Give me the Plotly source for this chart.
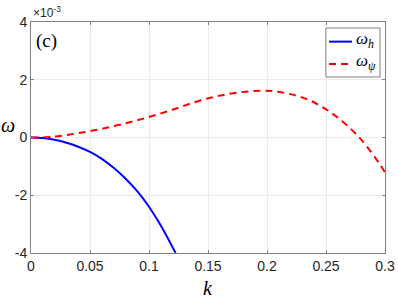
import plotly.graph_objects as go

# values in units of 1e-3
k_h = [0, 0.01, 0.02, 0.03, 0.04, 0.05, 0.06, 0.07, 0.08, 0.09, 0.10, 0.11, 0.1225]
omega_h = [0, -0.02, -0.08, -0.18, -0.32, -0.50, -0.74, -1.05, -1.42, -1.86, -2.40, -3.05, -4.0]

k_psi = [0, 0.02, 0.04, 0.05, 0.06, 0.08, 0.10, 0.12, 0.14, 0.16, 0.18, 0.195,
         0.205, 0.215, 0.225, 0.235, 0.245, 0.255, 0.265, 0.275, 0.285, 0.295, 0.3]
omega_psi = [0, 0.03, 0.15, 0.22, 0.30, 0.49, 0.71, 0.96, 1.24, 1.45, 1.58, 1.62,
             1.61, 1.54, 1.45, 1.31, 1.10, 0.84, 0.52, 0.14, -0.33, -0.89, -1.21]

x_ticks = [0, 0.05, 0.1, 0.15, 0.2, 0.25, 0.3]
x_ticktext = ["0", "0.05", "0.1", "0.15", "0.2", "0.25", "0.3"]
y_ticks = [-4, -2, 0, 2, 4]
y_ticktext = ["-4", "-2", "0", "2", "4"]

series_names = ["<i>ω</i><sub><i>h</i></sub>", "<i>ω</i><sub><i>ψ</i></sub>"]
series_colors = ["#0000ff", "#ff0000"]
series_dash = ["solid", "7px,5px"]

serif = "Liberation Serif, DejaVu Serif, serif"
sans = "Liberation Sans, Arial, sans-serif"

fig = go.Figure()

fig.add_trace(
    go.Scatter(
        x=k_h,
        y=omega_h,
        mode="lines",
        name=series_names[0],
        line=dict(color=series_colors[0], width=2, shape="spline"),
    )
)

fig.add_trace(
    go.Scatter(
        x=k_psi,
        y=omega_psi,
        mode="lines",
        name=series_names[1],
        line=dict(color=series_colors[1], width=2, dash=series_dash[1], shape="spline"),
    )
)

axis_common = dict(
    showline=True,
    linecolor="#808080",
    linewidth=1,
    mirror="allticks",
    ticks="inside",
    ticklen=3,
    tickcolor="#808080",
    showgrid=True,
    gridcolor="#ebebeb",
    gridwidth=1,
    zeroline=False,
    automargin=False,
    tickfont=dict(family=sans, size=14, color="#262626"),
)

fig.update_layout(
    width=398,
    height=299,
    margin=dict(l=31, r=13, t=22, b=46),
    paper_bgcolor="white",
    plot_bgcolor="white",
    xaxis=dict(
        range=[0, 0.3],
        tickmode="array",
        tickvals=x_ticks,
        ticktext=x_ticktext,
        **axis_common,
    ),
    yaxis=dict(
        range=[-4, 4],
        tickmode="array",
        tickvals=y_ticks,
        ticktext=y_ticktext,
        **axis_common,
    ),
    showlegend=False,
)

# hand-drawn legend box in the MATLAB style (top right)
fig.add_shape(
    type="rect", xref="paper", yref="paper",
    x0=0.833, x1=0.986, y0=0.762, y1=0.974,
    line=dict(color="#808080", width=1), fillcolor="white", layer="above",
)
legend_rows = [0.915, 0.818]
for name, color, dash, ry in zip(series_names, series_colors, series_dash, legend_rows):
    fig.add_shape(
        type="line", xref="paper", yref="paper",
        x0=0.842, x1=0.907, y0=ry, y1=ry,
        line=dict(color=color, width=2, dash=dash), layer="above",
    )
    fig.add_annotation(
        text=name, xref="paper", yref="paper", x=0.912, y=ry + 0.008,
        xanchor="left", yanchor="middle", showarrow=False,
        font=dict(family=serif, size=17, color="#000000"),
    )

# axis labels, panel tag and exponent marker
fig.add_annotation(
    text="<i>k</i>", xref="paper", yref="paper", x=0.5, y=-0.15,
    xanchor="center", yanchor="middle", showarrow=False,
    font=dict(family=serif, size=20, color="#000000"),
)
fig.add_annotation(
    text="<i>ω</i>", xref="paper", yref="paper", x=-0.066, y=0.554,
    xanchor="center", yanchor="middle", showarrow=False,
    font=dict(family=serif, size=20, color="#000000"),
)
fig.add_annotation(
    text="(c)", xref="paper", yref="paper", x=0.008, y=0.918,
    xanchor="left", yanchor="middle", showarrow=False,
    font=dict(family=serif, size=19, color="#000000"),
)
fig.add_annotation(
    text="×10<sup>-3</sup>", xref="paper", yref="paper", x=0.0, y=1.0,
    xanchor="left", yanchor="bottom", showarrow=False,
    font=dict(family=sans, size=12, color="#262626"),
)

fig.write_html(
    "out.html",
    config={"displayModeBar": False},
    post_script="document.body.style.margin='0px';",
)
